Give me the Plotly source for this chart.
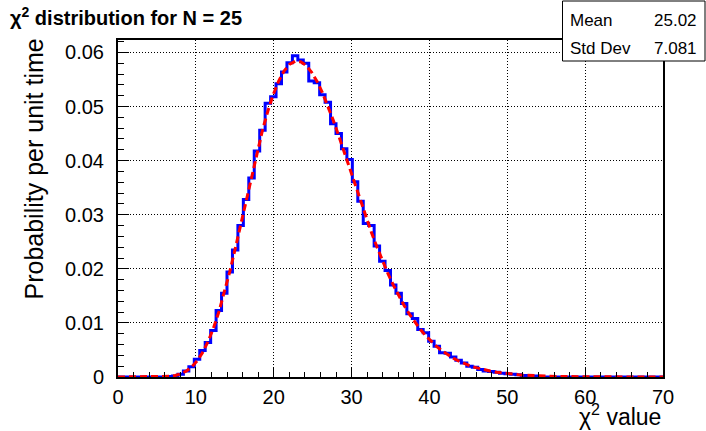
import plotly.graph_objects as go

# Histogram binning: 100 bins over [0, 70]
x_min, x_max, n_bins = 0.0, 70.0, 100

# Normalised bin contents (probability per unit chi2)
hist_values = [
    0, 0, 0, 0, 0, 0, 0, 0, 0, 0.0001,
    0.0002, 0.0005, 0.0011, 0.0019, 0.0033, 0.0049, 0.0064, 0.0086, 0.0123, 0.0155,
    0.0194, 0.0235, 0.0280, 0.0328, 0.0368, 0.0418, 0.0456, 0.0506, 0.0518, 0.0542,
    0.0564, 0.0581, 0.0594, 0.0586, 0.0580, 0.0547, 0.0544, 0.0522, 0.0508, 0.0468,
    0.0450, 0.0422, 0.0402, 0.0361, 0.0325, 0.0284, 0.0280, 0.0242, 0.0214, 0.0197,
    0.0170, 0.0155, 0.0136, 0.0117, 0.0108, 0.0088, 0.0082, 0.0066, 0.0057, 0.0045,
    0.0044, 0.0037, 0.0031, 0.0026, 0.0020, 0.0018, 0.0014, 0.0011, 0.0010, 0.0009,
    0.0007, 0.0006, 0.0005, 0.0004, 0.0003, 0.0003, 0.0002, 0.0001, 0, 0,
    0, 0, 0, 0, 0, 0, 0, 0, 0, 0,
    0, 0, 0, 0, 0, 0, 0, 0, 0, 0,
]

# Theoretical chi2 density (N = 25), sampled at the bin centres
curve_values = [
    0, 0, 0, 0, 0, 0, 0.000005, 0.000018, 0.000052, 0.000132,
    0.000293, 0.000588, 0.001081, 0.001846, 0.002958, 0.004490, 0.006494, 0.009002, 0.012019, 0.015514,
    0.019429, 0.023681, 0.028156, 0.032715, 0.037226, 0.041556, 0.045580, 0.049180, 0.052260, 0.054757,
    0.056613, 0.057815, 0.058355, 0.058273, 0.057595, 0.056376, 0.054681, 0.052579, 0.050150, 0.047457,
    0.044582, 0.041589, 0.038537, 0.035485, 0.032476, 0.029550, 0.026738, 0.024066, 0.021549, 0.019205,
    0.017033, 0.015039, 0.013220, 0.011574, 0.010093, 0.008767, 0.007587, 0.006540, 0.005619, 0.004812,
    0.004108, 0.003495, 0.002963, 0.002506, 0.002113, 0.001779, 0.001491, 0.001248, 0.001041, 0.000867,
    0.000720, 0.000597, 0.000493, 0.000407, 0.000335, 0.000275, 0.000226, 0.000184, 0.000151, 0.000123,
    0.000100, 0.000081, 0.000066, 0.000053, 0.000043, 0.000035, 0.000028, 0.000022, 0.000018, 0.000014,
    0.000012, 0.000009, 0.000007, 0.000006, 0.000005, 0.000004, 0.000003, 0.000002, 0.000002, 0.000001,
]

x_tick_vals = [0, 10, 20, 30, 40, 50, 60, 70]
y_tick_vals = [0, 0.01, 0.02, 0.03, 0.04, 0.05, 0.06]
y_tick_text = ["0", "0.01", "0.02", "0.03", "0.04", "0.05", "0.06"]

stat_labels = ["Mean", "Std Dev"]
stat_values = ["25.02", "7.081"]

title_text = "\u03c7<sup>2</sup> distribution for N = 25"
x_title = "\u03c7<sup>2</sup> value"
y_title = "Probability per unit time"

bin_w = (x_max - x_min) / n_bins
edges = [x_min + i * bin_w for i in range(n_bins + 1)]
centres = [x_min + (i + 0.5) * bin_w for i in range(n_bins)]

FONT = "Liberation Sans, Arial, Helvetica, sans-serif"

# Plot-area geometry in pixels
W, H = 706, 431
L, R, T, B = 118, 663, 40, 377
pw, ph = R - L, B - T


def px(xp):
    return (xp - L) / pw


def py(yp):
    return (B - yp) / ph


fig = go.Figure()

# Histogram outline
fig.add_trace(go.Scatter(
    x=[x_min] + edges, y=[0] + hist_values + [hist_values[-1]],
    mode="lines", line=dict(color="rgb(0,0,255)", width=3, shape="hv"),
    hoverinfo="skip", showlegend=False,
))

# Theoretical curve
fig.add_trace(go.Scatter(
    x=[x_min] + centres + [x_max], y=[0] + curve_values + [0],
    mode="lines", line=dict(color="rgb(255,0,0)", width=3, dash="7px,4px"),
    hoverinfo="skip", showlegend=False,
))

axis_common = dict(
    showline=True, linecolor="black", linewidth=2, mirror=True,
    ticks="inside", tickcolor="black", tickwidth=1,
    showgrid=True, gridcolor="black", gridwidth=1, griddash="1px,2px",
    zeroline=False,
    tickfont=dict(family=FONT, size=20, color="black"),
)

fig.update_xaxes(
    range=[x_min, x_max], tickmode="array", tickvals=x_tick_vals,
    ticktext=[str(v) for v in x_tick_vals], ticklen=10,
    minor=dict(ticks="inside", ticklen=5, dtick=2, tick0=0, tickcolor="black", showgrid=False),
    ticklabelstandoff=1,
    **axis_common,
)
fig.update_yaxes(
    range=[0, 0.0623], tickmode="array", tickvals=y_tick_vals, ticktext=y_tick_text,
    ticklen=11,
    minor=dict(ticks="inside", ticklen=6, dtick=0.002, tick0=0, tickcolor="black", showgrid=False),
    ticklabelstandoff=8,
    **axis_common,
)

annotations = [
    dict(text=f"<b>{title_text}</b>", x=px(8), y=py(17), xref="paper", yref="paper",
         xanchor="left", yanchor="middle", showarrow=False,
         font=dict(family=FONT, size=20, color="black")),
    dict(text=x_title, x=1.0, y=py(432), xref="paper", yref="paper",
         xanchor="right", yanchor="bottom", showarrow=False,
         font=dict(family=FONT, size=23, color="black")),
    dict(text=y_title, x=px(33), y=py(37), xref="paper", yref="paper",
         xanchor="center", yanchor="top", textangle=-90, showarrow=False,
         font=dict(family=FONT, size=25, color="black")),
]

# Statistics box
row_y = [21, 48]
for lab, val, yy in zip(stat_labels, stat_values, row_y):
    annotations.append(dict(text=lab, x=px(568), y=py(yy), xref="paper", yref="paper",
                            xanchor="left", yanchor="middle", showarrow=False,
                            font=dict(family=FONT, size=17, color="black")))
    annotations.append(dict(text=val, x=px(699), y=py(yy), xref="paper", yref="paper",
                            xanchor="right", yanchor="middle", showarrow=False,
                            font=dict(family=FONT, size=17, color="black")))

shapes = [
    dict(type="rect", xref="paper", yref="paper",
         x0=px(562.5), x1=px(705), y0=py(61), y1=py(1),
         line=dict(color="black", width=1), fillcolor="white", layer="above"),
]

fig.update_layout(
    width=W, height=H,
    margin=dict(l=L, r=W - R, t=T, b=H - B, pad=0),
    paper_bgcolor="white", plot_bgcolor="white",
    annotations=annotations, shapes=shapes,
    showlegend=False,
)

fig.write_html("out.html", include_plotlyjs=True, config={"displayModeBar": False})
